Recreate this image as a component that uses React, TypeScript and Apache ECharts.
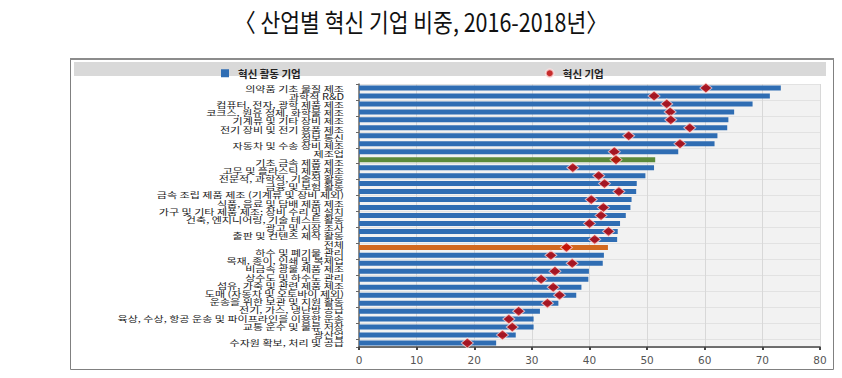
import React, { useEffect, useRef } from "react";
import * as echarts from "echarts";

const titleText = "〈 산업별 혁신 기업 비중, 2016-2018년〉";
const seriesNames = ["혁신 활동 기업", "혁신 기업"];

// industry labels as printed (32)
const labels = [
  "의약품 기초 물질 제조",
  "과학적 R&D",
  "컴퓨터, 전자, 광학 제품 제조",
  "코크스, 원유 정제, 화학물 제조",
  "기계류 및 기타 장비 제조",
  "전기 장비 및 전기 용품 제조",
  "정보 통신",
  "자동차 및 수송 장비 제조",
  "제조업",
  "기초 금속 제품 제조",
  "고무 및 플라스틱 제품 제조",
  "전문적, 과학적, 기술적 활동",
  "금융 및 보험 활동",
  "금속 조립 제품 제조 (기계류 및 장비 제외)",
  "식품, 음료 및 담배 제품 제조",
  "가구 및 기타 제품 제조; 장비 수리 및 설치",
  "건축, 엔지니어링, 기술 테스트 활동",
  "광고 및 시장 조사",
  "출판 및 컨텐츠 제작 활동",
  "전체",
  "하수 및 폐기물 관리",
  "목재, 종이, 인쇄 및 복제업",
  "비금속 광물 제품 제조",
  "상수도 및 하수도 관리",
  "섬유, 가죽 및 관련 제품 제조",
  "도매 (자동차 및 오토바이 제외)",
  "운송을 위한 보관 및 지원 활동",
  "전기, 가스, 냉난방 공급",
  "육상, 수상, 항공 운송 및 파이프라인을 이용한 운송",
  "교통 운수 및 물류 저장",
  "광산업",
  "수자원 확보, 처리 및 공급",
];

// bar rows as drawn (33)
const rowIds = [
  "1", "2", "3", "4", "5", "6", "7", "8", "9", "10", "11",
  "12", "13", "14", "15", "16", "17", "18", "19", "20", "21",
  "22", "23", "24", "25", "26", "27", "28", "29", "30", "31", "32", "33",
];

// 혁신 활동 기업 (%)
const activeShare = [
  73.2, 71.3, 68.3, 65.1, 64.1, 63.9, 62.2, 61.7, 55.4, 51.4, 51.2,
  49.7, 48.2, 48.1, 47.3, 47.1, 46.3, 45.3, 44.9, 44.8, 43.2,
  42.5, 42.3, 39.9, 39.8, 38.6, 37.7, 34.6, 31.4, 30.3, 30.3, 27.2, 23.8,
];

// 혁신 기업 (%)
const innovShare = [
  60.2, 51.2, 53.4, 54.0, 54.1, 57.4, 46.8, 55.7, 44.3, 44.6, 37.1,
  41.6, 42.6, 45.1, 40.3, 42.4, 42.0, 40.0, 43.3, 40.9, 36.0,
  33.3, 37.0, 34.0, 31.6, 33.7, 34.8, 32.7, 27.7, 26.0, 26.6, 24.9, 18.8,
];

const xTicks = [0, 10, 20, 30, 40, 50, 60, 70, 80];

const BLUE = "#2f6db3";
const RED = "#c00000";
const specialColors: Record<number, string> = { 9: "#5b8a3b", 20: "#d2691f" };

export default function App() {
  const ref = useRef<HTMLDivElement>(null);

  useEffect(() => {
    if (!ref.current) return;
    const chart = echarts.init(ref.current, undefined, { renderer: "svg" });
    const font = "'Noto Sans CJK KR', 'Noto Sans', sans-serif";

    chart.setOption({
      animation: false,
      backgroundColor: "#ffffff",
      textStyle: { fontFamily: font },
      graphic: [
        {
          type: "text",
          x: 421,
          y: 21,
          scaleX: 0.86,
          style: {
            text: titleText,
            font: `400 25px ${font}`,
            fill: "#111",
            textAlign: "center",
            textVerticalAlign: "middle",
          },
        },
        {
          type: "rect",
          shape: { x: 70.5, y: 58.5, width: 763, height: 311 },
          style: { fill: "none", stroke: "#808080", lineWidth: 1 },
          z: -1,
        },
        {
          type: "line",
          shape: { x1: 70, y1: 59, x2: 834, y2: 59 },
          style: { stroke: "#8c8c8c", lineWidth: 2 },
        },
        {
          type: "rect",
          shape: { x: 74, y: 62, width: 752, height: 14 },
          style: { fill: "#d9d9d9" },
          z: -1,
        },
      ],
      legend: {
        left: 216,
        top: 63,
        itemWidth: 8,
        itemHeight: 8,
        itemGap: 244,
        textStyle: {
          fontSize: 10.5,
          color: "#222",
          fontWeight: "bold",
          fontFamily: font,
          padding: [0, 0, 0, 4],
        },
        data: [
          { name: seriesNames[0], icon: "rect" },
          { name: seriesNames[1], icon: "circle", itemStyle: { color: RED } },
        ],
      },
      grid: {
        left: 359,
        right: 22,
        top: 84,
        bottom: 31,
        show: true,
        backgroundColor: "#f2f2f2",
        borderWidth: 0,
      },
      xAxis: {
        type: "value",
        min: 0,
        max: 80,
        interval: 10,
        axisLine: { show: true, lineStyle: { color: "#444", width: 1.5 } },
        axisTick: { show: true, length: 3, lineStyle: { color: "#444", width: 2 } },
        axisLabel: {
          fontSize: 10.5,
          color: "#555",
          margin: 7,
          fontFamily: "'DejaVu Sans', Verdana, sans-serif",
          formatter: (v: number) => (xTicks.includes(v) ? String(v) : ""),
        },
        splitLine: { show: true, lineStyle: { color: "#d8d8d8", width: 1 } },
      },
      yAxis: [
        {
          type: "category",
          data: rowIds,
          inverse: true,
          axisLine: { show: true, lineStyle: { color: "#666", width: 1.5 } },
          axisTick: { show: true, length: 3, inside: false, lineStyle: { color: "#666" } },
          axisLabel: { show: false },
          splitLine: { show: true, lineStyle: { color: "#e2e2e2", width: 1 } },
        },
        {
          type: "category",
          data: labels,
          inverse: true,
          position: "left",
          axisLine: { show: false },
          axisTick: { show: false },
          splitLine: { show: false },
          axisLabel: { show: false },
        },
      ],
      series: [
        {
          name: seriesNames[0],
          type: "bar",
          yAxisIndex: 0,
          barWidth: 5,
          itemStyle: { color: BLUE },
          data: activeShare.map((v, i) =>
            specialColors[i] !== undefined
              ? { value: v, itemStyle: { color: specialColors[i] } }
              : v
          ),
          z: 2,
        },
        {
          name: seriesNames[1],
          type: "scatter",
          yAxisIndex: 0,
          symbol: "diamond",
          symbolSize: [12, 10],
          itemStyle: { color: RED, borderColor: "rgba(255,230,230,0.9)", borderWidth: 1 },
          data: innovShare.map((v, i) => [v, rowIds[i]]),
          z: 3,
        },
        {
          name: "labels",
          type: "custom",
          yAxisIndex: 1,
          clip: false,
          silent: true,
          encode: { x: 0, y: 1 },
          data: labels.map((name) => [0, name]),
          renderItem: (params: any, api: any) => {
            const p = api.coord([api.value(0), api.value(1)]);
            return {
              type: "text",
              x: p[0] - 15,
              y: p[1],
              scaleX: 1.3,
              style: {
                text: labels[params.dataIndex],
                font: `400 8.5px ${font}`,
                fill: "#1a1a1a",
                textAlign: "right",
                textVerticalAlign: "middle",
              },
            };
          },
          z: 4,
        },
      ],
    });

    return () => chart.dispose();
  }, []);

  return (
    <div
      ref={ref}
      style={{ position: "fixed", left: 0, top: 0, width: 842, height: 378 }}
    />
  );
}
